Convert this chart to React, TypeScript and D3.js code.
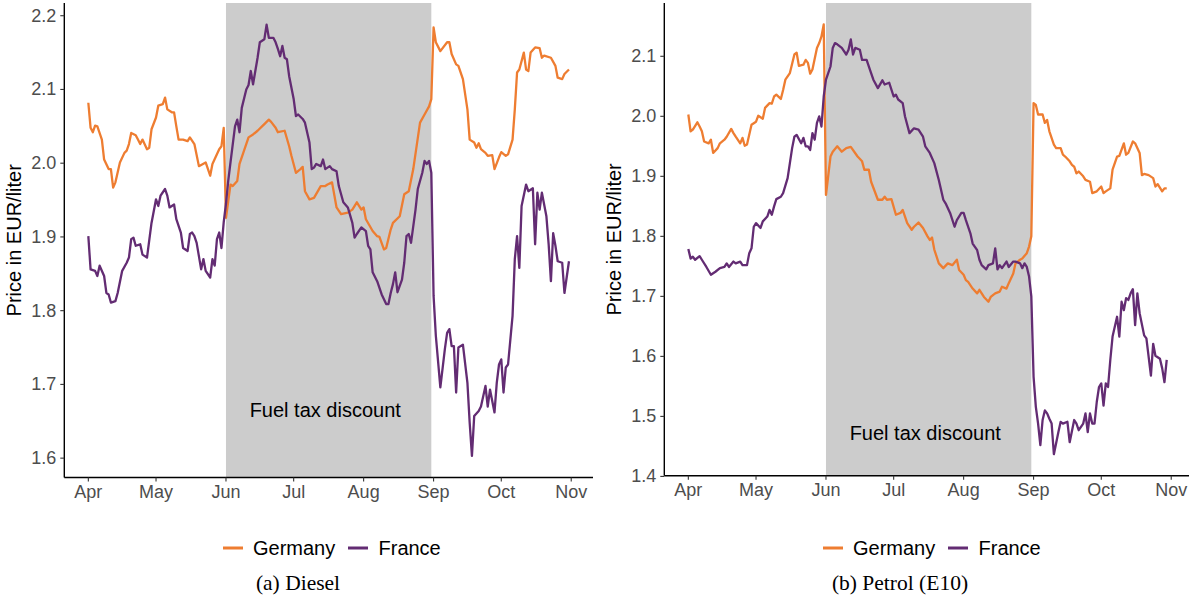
import React from "react";
import * as d3 from "d3";

// ---------- data ----------
const START = "2022-04-01";
const END = "2022-10-31";
const monthTicks = ["2022-04-01", "2022-05-01", "2022-06-01", "2022-07-01", "2022-08-01", "2022-09-01", "2022-10-01", "2022-11-01"];
const monthLabels = ["Apr", "May", "Jun", "Jul", "Aug", "Sep", "Oct", "Nov"];
const discountStart = "2022-06-01";
const discountEnd = "2022-08-31";
const discountLabelDate = "2022-07-15";
const discountLabel = "Fuel tax discount";
const seriesNames = ["Germany", "France"];
const dieselTicks = [1.6, 1.7, 1.8, 1.9, 2.0, 2.1, 2.2];
const petrolTicks = [1.4, 1.5, 1.6, 1.7, 1.8, 1.9, 2.0, 2.1];
const dieselLabelY = 1.665;
const petrolLabelY = 1.472;
const captions = ["(a) Diesel", "(b) Petrol (E10)"];
const yTitle = "Price in EUR/liter";

// [days since START, EUR/liter]
const dieselGermany: [number, number][] = [
  [0, 2.082], [1, 2.048], [2, 2.042], [3, 2.051], [4, 2.05], [6, 2.032], [7, 2.005], [9, 1.992], [10, 1.992], [11, 1.967], [12, 1.974],
  [14, 2.001], [16, 2.014], [17, 2.017], [18, 2.026], [19, 2.041], [21, 2.038], [22, 2.032], [23, 2.026], [24, 2.032], [26, 2.019],
  [27, 2.021], [28, 2.046], [30, 2.062], [31, 2.078], [33, 2.08], [34, 2.089], [35, 2.073], [37, 2.069], [38, 2.069], [39, 2.05],
  [40, 2.032], [42, 2.032], [44, 2.03], [45, 2.035], [47, 2.026], [49, 1.996], [52, 2.001], [54, 1.983], [55, 1.999], [58, 2.019],
  [59, 2.023], [60, 2.048], [61, 1.926], [63, 1.971], [64, 1.969], [66, 1.976], [67, 1.999], [69, 2.017], [71, 2.035], [73, 2.039],
  [75, 2.044], [78, 2.053], [80, 2.059], [81, 2.056], [83, 2.048], [84, 2.042], [87, 2.044], [89, 2.023], [90, 2.01], [92, 1.987],
  [94, 1.992], [95, 1.995], [96, 1.962], [98, 1.951], [100, 1.953], [103, 1.969], [105, 1.969], [106, 1.971], [108, 1.974], [110, 1.94],
  [112, 1.931], [115, 1.933], [117, 1.937], [119, 1.947], [121, 1.937], [122, 1.94], [123, 1.924], [126, 1.908], [128, 1.901], [129, 1.9],
  [131, 1.883], [132, 1.885], [134, 1.91], [135, 1.919], [138, 1.928], [140, 1.958], [142, 1.962], [144, 1.992], [147, 2.055], [149, 2.066],
  [151, 2.077], [152, 2.087], [153, 2.184], [154, 2.164], [156, 2.152], [159, 2.164], [160, 2.164], [161, 2.148], [163, 2.134], [164, 2.132],
  [166, 2.114], [168, 2.073], [169, 2.032], [171, 2.028], [172, 2.021], [173, 2.027], [174, 2.019], [176, 2.014], [177, 2.01], [179, 2.011],
  [180, 1.992], [182, 2.008], [183, 2.015], [185, 2.01], [186, 2.012], [188, 2.032], [189, 2.073], [190, 2.123], [191, 2.127], [193, 2.15],
  [194, 2.127], [195, 2.125], [196, 2.15], [198, 2.157], [200, 2.156], [201, 2.143], [202, 2.146], [205, 2.143], [207, 2.132], [208, 2.116],
  [210, 2.114], [211, 2.121], [213, 2.127],
];

const dieselFrance: [number, number][] = [
  [0, 1.901], [1, 1.856], [3, 1.854], [4, 1.847], [5, 1.861], [7, 1.847], [8, 1.824], [9, 1.822], [10, 1.811], [12, 1.813], [13, 1.824],
  [15, 1.854], [17, 1.865], [18, 1.872], [19, 1.897], [20, 1.899], [21, 1.888], [23, 1.89], [24, 1.876], [26, 1.872], [28, 1.919],
  [30, 1.951], [31, 1.942], [32, 1.956], [34, 1.965], [35, 1.956], [36, 1.94], [38, 1.944], [39, 1.924], [41, 1.906], [42, 1.885],
  [44, 1.881], [45, 1.904], [46, 1.906], [47, 1.901], [48, 1.892], [49, 1.874], [50, 1.856], [51, 1.87], [52, 1.854], [54, 1.845],
  [55, 1.87], [56, 1.861], [57, 1.897], [58, 1.906], [59, 1.885], [60, 1.92], [61, 1.945], [62, 1.976], [63, 2.001], [65, 2.05],
  [66, 2.059], [67, 2.042], [68, 2.075], [70, 2.1], [71, 2.106], [72, 2.125], [73, 2.107], [75, 2.143], [76, 2.164], [78, 2.168],
  [79, 2.188], [80, 2.17], [82, 2.17], [83, 2.164], [84, 2.155], [85, 2.145], [86, 2.159], [87, 2.143], [88, 2.141], [89, 2.118],
  [91, 2.087], [92, 2.064], [93, 2.066], [95, 2.06], [96, 2.055], [98, 2.028], [99, 1.992], [100, 1.994], [101, 1.999], [103, 1.996],
  [104, 2.005], [105, 1.992], [107, 1.996], [108, 1.992], [110, 1.989], [111, 1.969], [113, 1.947], [115, 1.94], [117, 1.919], [118, 1.899],
  [119, 1.904], [121, 1.913], [123, 1.908], [124, 1.888], [125, 1.883], [126, 1.852], [128, 1.84], [130, 1.822], [132, 1.809], [133, 1.809],
  [134, 1.824], [135, 1.836], [136, 1.852], [137, 1.825], [139, 1.842], [140, 1.865], [141, 1.901], [142, 1.904], [143, 1.892], [145, 1.937],
  [146, 1.965], [148, 1.987], [149, 2.003], [150, 1.999], [151, 2.003], [152, 1.987], [153, 1.82], [154, 1.766], [156, 1.696], [158, 1.748],
  [159, 1.77], [160, 1.775], [161, 1.752], [162, 1.752], [163, 1.689], [164, 1.75], [166, 1.754], [168, 1.702], [169, 1.648], [170, 1.603],
  [171, 1.657], [173, 1.664], [174, 1.67], [176, 1.698], [177, 1.67], [178, 1.693], [180, 1.662], [181, 1.702], [182, 1.727], [183, 1.734],
  [184, 1.689], [185, 1.723], [186, 1.727], [188, 1.793], [189, 1.87], [190, 1.901], [191, 1.858], [192, 1.942], [194, 1.971], [195, 1.962],
  [197, 1.966], [198, 1.89], [199, 1.96], [200, 1.937], [201, 1.96], [203, 1.928], [204, 1.89], [205, 1.84], [206, 1.905], [207, 1.888],
  [208, 1.867], [210, 1.865], [211, 1.824], [213, 1.867],
];

const petrolGermany: [number, number][] = [
  [0, 2.003], [1, 1.975], [2, 1.978], [4, 1.99], [5, 1.983], [6, 1.975], [7, 1.958], [9, 1.955], [10, 1.961], [11, 1.939], [13, 1.947],
  [14, 1.955], [16, 1.961], [17, 1.966], [19, 1.979], [20, 1.972], [21, 1.966], [23, 1.955], [24, 1.964], [25, 1.951], [26, 1.953],
  [28, 1.986], [30, 1.991], [31, 2.001], [33, 1.996], [34, 2.014], [36, 2.022], [37, 2.021], [38, 2.033], [39, 2.036], [41, 2.029],
  [42, 2.044], [43, 2.061], [45, 2.072], [47, 2.103], [48, 2.106], [49, 2.084], [51, 2.086], [52, 2.094], [53, 2.089], [54, 2.071],
  [55, 2.078], [57, 2.114], [58, 2.122], [59, 2.133], [60, 2.153], [61, 1.869], [63, 1.933], [64, 1.941], [66, 1.95], [68, 1.941],
  [70, 1.947], [72, 1.949], [75, 1.933], [77, 1.925], [78, 1.911], [80, 1.911], [81, 1.891], [84, 1.861], [86, 1.861], [87, 1.866],
  [88, 1.861], [90, 1.862], [92, 1.836], [94, 1.839], [95, 1.844], [97, 1.822], [99, 1.811], [100, 1.816], [102, 1.823], [104, 1.814],
  [106, 1.8], [107, 1.794], [108, 1.798], [109, 1.778], [111, 1.755], [113, 1.747], [115, 1.755], [117, 1.752], [119, 1.761], [120, 1.744],
  [122, 1.736], [123, 1.727], [124, 1.724], [126, 1.713], [128, 1.705], [129, 1.711], [131, 1.699], [133, 1.691], [134, 1.699], [136, 1.705],
  [138, 1.708], [139, 1.716], [141, 1.713], [142, 1.722], [144, 1.738], [145, 1.755], [147, 1.761], [148, 1.763], [150, 1.772], [151, 1.783],
  [152, 1.8], [153, 2.022], [154, 2.019], [155, 2.003], [157, 2.003], [158, 1.989], [159, 1.994], [160, 1.975], [162, 1.953], [163, 1.947],
  [165, 1.947], [166, 1.936], [167, 1.933], [169, 1.925], [170, 1.919], [171, 1.916], [172, 1.905], [173, 1.908], [175, 1.9], [176, 1.894],
  [178, 1.891], [179, 1.872], [181, 1.875], [183, 1.883], [184, 1.872], [185, 1.875], [187, 1.88], [188, 1.911], [190, 1.933], [191, 1.934],
  [193, 1.955], [194, 1.936], [195, 1.939], [197, 1.958], [198, 1.955], [200, 1.939], [201, 1.902], [202, 1.904], [204, 1.902], [206, 1.897],
  [207, 1.883], [208, 1.887], [210, 1.875], [211, 1.88], [212, 1.88],
];

const petrolFrance: [number, number][] = [
  [0, 1.779], [1, 1.763], [2, 1.766], [3, 1.761], [5, 1.767], [6, 1.761], [8, 1.749], [10, 1.736], [12, 1.741], [14, 1.747], [16, 1.749],
  [17, 1.755], [18, 1.749], [20, 1.758], [21, 1.755], [23, 1.758], [24, 1.752], [26, 1.752], [27, 1.772], [28, 1.78], [29, 1.816],
  [30, 1.822], [32, 1.814], [33, 1.825], [35, 1.833], [36, 1.844], [37, 1.836], [38, 1.85], [39, 1.862], [41, 1.866], [42, 1.872],
  [44, 1.897], [45, 1.922], [46, 1.947], [47, 1.966], [48, 1.969], [50, 1.955], [51, 1.964], [52, 1.95], [53, 1.95], [54, 1.944],
  [55, 1.972], [56, 1.961], [57, 1.989], [58, 2.0], [59, 1.983], [60, 2.033], [61, 2.061], [63, 2.083], [64, 2.114], [65, 2.122],
  [66, 2.12], [68, 2.114], [70, 2.103], [71, 2.111], [72, 2.128], [73, 2.103], [74, 2.114], [76, 2.111], [77, 2.094], [79, 2.094],
  [81, 2.072], [82, 2.061], [84, 2.047], [86, 2.06], [87, 2.053], [89, 2.056], [91, 2.033], [92, 2.036], [93, 2.028], [95, 2.022],
  [96, 2.0], [98, 1.972], [100, 1.98], [102, 1.978], [104, 1.966], [105, 1.95], [107, 1.939], [109, 1.922], [111, 1.894], [113, 1.861],
  [114, 1.855], [116, 1.839], [118, 1.816], [119, 1.827], [121, 1.839], [122, 1.839], [123, 1.827], [125, 1.805], [126, 1.788], [128, 1.777],
  [129, 1.761], [130, 1.752], [132, 1.745], [133, 1.752], [135, 1.755], [136, 1.78], [137, 1.745], [138, 1.752], [139, 1.747], [141, 1.758],
  [142, 1.749], [144, 1.758], [145, 1.758], [147, 1.755], [148, 1.747], [149, 1.755], [150, 1.749], [151, 1.733], [152, 1.7], [153, 1.566],
  [154, 1.516], [155, 1.488], [156, 1.452], [157, 1.494], [158, 1.51], [159, 1.505], [160, 1.496], [161, 1.488], [162, 1.437], [164, 1.474],
  [165, 1.491], [166, 1.488], [168, 1.491], [169, 1.457], [171, 1.494], [172, 1.488], [173, 1.477], [175, 1.488], [176, 1.505], [177, 1.474],
  [178, 1.505], [179, 1.488], [180, 1.488], [181, 1.524], [182, 1.549], [183, 1.555], [184, 1.518], [185, 1.555], [186, 1.549], [187, 1.594],
  [188, 1.633], [190, 1.666], [191, 1.633], [192, 1.691], [193, 1.677], [194, 1.697], [195, 1.694], [196, 1.705], [197, 1.712], [198, 1.652],
  [199, 1.705], [200, 1.672], [202, 1.635], [203, 1.63], [205, 1.568], [206, 1.621], [207, 1.601], [209, 1.596], [210, 1.58], [211, 1.557],
  [212, 1.594],
];

// ---------- styling ----------
const COLORS = ["#EE7D31", "#632C73"];
const SHADE = "#CCCCCC";
const SANS = "'Liberation Sans', Arial, sans-serif";
const SERIF = "'Liberation Serif', 'Times New Roman', serif";

const parse = d3.timeParse("%Y-%m-%d");
const t0 = parse(START)!;
const tEnd = parse(END)!;

type PanelProps = {
  ox: number;
  bottom: number;
  series: [number, number][][];
  ticks: number[];
  labelY: number;
  caption: string;
  captionX: number;
};

function Panel({ ox, bottom, series, ticks, labelY, caption, captionX }: PanelProps) {
  const top = 3;
  const span = +tEnd - +t0;
  const x = d3
    .scaleTime()
    .domain([new Date(+t0 - span * 0.05), new Date(+tEnd + span * 0.05)])
    .range([ox + 64.3, ox + 593]);
  const all = series.flat().map((d) => d[1]);
  const [mn, mx] = d3.extent(all) as [number, number];
  const r = mx - mn;
  const y = d3.scaleLinear().domain([mn - 0.05 * r, mx + 0.05 * r]).range([bottom, top]);
  const left = x.range()[0];
  const right = x.range()[1];
  const line = d3
    .line<[number, number]>()
    .x((d) => x(d3.timeDay.offset(t0, d[0])))
    .y((d) => y(d[1]));
  const xs = x(parse(discountStart)!);
  const xe = x(parse(discountEnd)!);
  const legendX = ox + 223;
  const legendY = 548;
  return (
    <g>
      <rect x={xs} y={top} width={xe - xs} height={bottom - top} fill={SHADE} />
      <text
        x={x(parse(discountLabelDate)!)}
        y={y(labelY)}
        textAnchor="middle"
        dominantBaseline="central"
        fontFamily={SANS}
        fontSize={20}
        fill="#000"
      >
        {discountLabel}
      </text>
      {series.map((s, i) => (
        <path key={i} d={line(s) || ""} fill="none" stroke={COLORS[i]} strokeWidth={2.3} strokeLinejoin="round" />
      ))}
      {/* axes */}
      <line x1={left} x2={left} y1={top} y2={bottom} stroke="#000" strokeWidth={1.4} />
      <line x1={left} x2={right} y1={bottom} y2={bottom} stroke="#000" strokeWidth={1.4} />
      {ticks.map((t) => (
        <g key={t}>
          <line x1={left - 4} x2={left} y1={y(t)} y2={y(t)} stroke="#333" strokeWidth={1.1} />
          <text x={left - 8} y={y(t)} textAnchor="end" dominantBaseline="central" fontFamily={SANS} fontSize={18} fill="#4D4D4D">
            {t.toFixed(1)}
          </text>
        </g>
      ))}
      {monthTicks.map((m, i) => {
        const px = x(parse(m)!);
        return (
          <g key={m}>
            <line x1={px} x2={px} y1={bottom} y2={bottom + 4} stroke="#333" strokeWidth={1.1} />
            <text x={px} y={bottom + 20} textAnchor="middle" fontFamily={SANS} fontSize={18} fill="#4D4D4D">
              {monthLabels[i]}
            </text>
          </g>
        );
      })}
      <text
        transform={`translate(${ox + 14},${(top + bottom) / 2}) rotate(-90)`}
        textAnchor="middle"
        dominantBaseline="central"
        fontFamily={SANS}
        fontSize={20}
        fill="#000"
      >
        {yTitle}
      </text>
      {/* legend */}
      <line x1={legendX} x2={legendX + 20} y1={legendY} y2={legendY} stroke={COLORS[0]} strokeWidth={3} />
      <text x={legendX + 30} y={legendY} dominantBaseline="central" fontFamily={SANS} fontSize={20} fill="#000">
        {seriesNames[0]}
      </text>
      <line x1={legendX + 125} x2={legendX + 145} y1={legendY} y2={legendY} stroke={COLORS[1]} strokeWidth={3} />
      <text x={legendX + 155.5} y={legendY} dominantBaseline="central" fontFamily={SANS} fontSize={20} fill="#000">
        {seriesNames[1]}
      </text>
      <text x={captionX} y={590} textAnchor="middle" fontFamily={SERIF} fontSize={21.5} fill="#000">
        {caption}
      </text>
    </g>
  );
}

export default function App() {
  return (
    <div style={{ position: "fixed", left: 0, top: 0, width: 1189, height: 597, background: "#fff" }}>
      <svg width={1189} height={597} viewBox="0 0 1189 597" style={{ display: "block" }}>
        <rect width={1189} height={597} fill="#fff" />
        <Panel ox={0} bottom={477.5} series={[dieselGermany, dieselFrance]} ticks={dieselTicks} labelY={dieselLabelY} caption={captions[0]} captionX={298} />
        <Panel ox={600} bottom={475.7} series={[petrolGermany, petrolFrance]} ticks={petrolTicks} labelY={petrolLabelY} caption={captions[1]} captionX={900} />
      </svg>
    </div>
  );
}
